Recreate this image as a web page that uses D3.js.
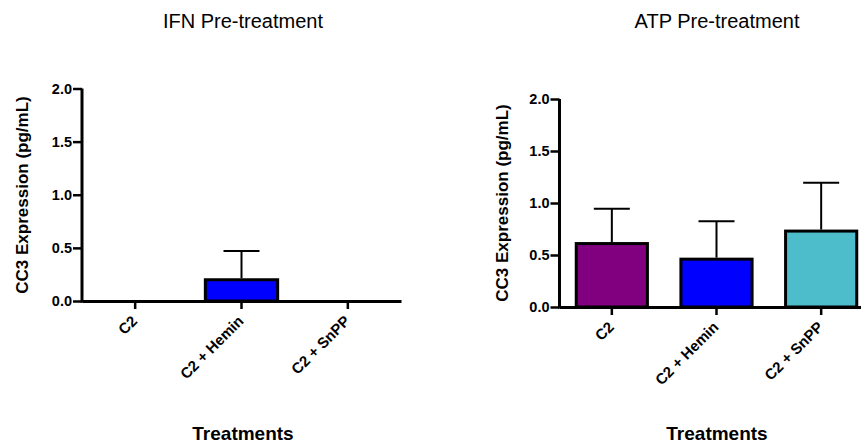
<!DOCTYPE html>
<html>
<head>
<meta charset="utf-8">
<script src="https://cdn.jsdelivr.net/npm/d3@7"></script>
<style>
  body { margin: 0; background: #fff; }
  text { font-family: "Liberation Sans", Arial, sans-serif; }
</style>
</head>
<body>
<div class="chart"></div>
<script>
// data
var treatments = ["C2", "C2 + Hemin", "C2 + SnPP"];
var ifnMeans = [0, 0.20, 0];
var ifnErrors = [0, 0.27, 0];
var atpMeans = [0.61, 0.46, 0.73];
var atpErrors = [0.335, 0.365, 0.465];
var barColors = ["#800080", "#0000ff", "#4dbdcc"];
var yTicks = [0, 0.5, 1.0, 1.5, 2.0];

var svg = d3.select(".chart")
  .append("svg")
  .attr("width", 861)
  .attr("height", 444);

// one panel per pre-treatment
function drawPanel(opts) {
  var g = svg.append("g");

  var xScale = d3.scaleBand()
    .domain(treatments)
    .range([opts.left, opts.right])
    .paddingInner(0.32)
    .paddingOuter(0.16);

  var yScale = d3.scaleLinear()
    .domain([0, 2])
    .range([opts.bottom, opts.top]);

  var data = treatments.map(function(t, i) {
    return { name: t, mean: opts.means[i], err: opts.errors[i], color: barColors[i] };
  });

  // bars (zero height bars are skipped)
  g.selectAll("rect")
    .data(data.filter(d => d.mean > 0))
    .enter()
    .append("rect")
    .attr("x", d => xScale(d.name))
    .attr("y", d => yScale(d.mean))
    .attr("width", xScale.bandwidth())
    .attr("height", d => yScale(0) - yScale(d.mean))
    .attr("fill", d => d.color)
    .attr("stroke", "#000")
    .attr("stroke-width", 3);

  // upper error bars
  var errs = data.filter(d => d.err > 0);
  var cx = d => xScale(d.name) + xScale.bandwidth() / 2;
  g.selectAll(".err-v")
    .data(errs)
    .enter()
    .append("line")
    .attr("x1", cx).attr("x2", cx)
    .attr("y1", d => yScale(d.mean) - 1.5)
    .attr("y2", d => yScale(d.mean + d.err))
    .attr("stroke", "#000")
    .attr("stroke-width", 2);
  g.selectAll(".err-cap")
    .data(errs)
    .enter()
    .append("line")
    .attr("x1", d => cx(d) - 18).attr("x2", d => cx(d) + 18)
    .attr("y1", d => yScale(d.mean + d.err))
    .attr("y2", d => yScale(d.mean + d.err))
    .attr("stroke", "#000")
    .attr("stroke-width", 2);

  // y axis
  var yAxis = g.append("g")
    .attr("transform", `translate(${opts.left}, 0)`)
    .call(d3.axisLeft(yScale).tickValues(yTicks).tickFormat(d3.format(".1f"))
      .tickSize(9).tickSizeOuter(0).tickPadding(1));
  yAxis.select(".domain").attr("stroke-width", 3).attr("d", `M0,${opts.bottom + 1.5}V${opts.top}`);
  yAxis.selectAll(".tick line").attr("stroke-width", 2.5);
  yAxis.selectAll(".tick text")
    .attr("font-family", "'Liberation Sans', Arial, sans-serif")
    .attr("font-weight", "bold")
    .attr("font-size", 14.5)
    .attr("fill", "#000");

  // x axis
  var xAxis = g.append("g")
    .attr("transform", `translate(0, ${opts.bottom})`)
    .call(d3.axisBottom(xScale).tickSize(8).tickSizeOuter(0));
  xAxis.select(".domain").attr("stroke-width", 3);
  xAxis.selectAll(".tick line").attr("stroke-width", 2.5);
  xAxis.selectAll(".tick text")
    .attr("font-family", "'Liberation Sans', Arial, sans-serif")
    .attr("font-weight", "bold")
    .attr("font-size", 15)
    .attr("fill", "#000")
    .attr("text-anchor", "end")
    .attr("dy", null)
    .attr("y", 0)
    .attr("transform", "translate(3, 21) rotate(-45)");

  // titles
  svg.append("text")
    .attr("x", opts.titleX)
    .attr("y", 28)
    .attr("text-anchor", "middle")
    .attr("font-size", 20)
    .text(opts.title);

  svg.append("text")
    .attr("x", opts.titleX)
    .attr("y", 440)
    .attr("text-anchor", "middle")
    .attr("font-size", 19)
    .attr("font-weight", "bold")
    .text("Treatments");

  svg.append("text")
    .attr("transform", `translate(${opts.labelX}, ${opts.labelY}) rotate(-90)`)
    .attr("text-anchor", "middle")
    .attr("font-size", 17)
    .attr("font-weight", "bold")
    .text("CC3 Expression (pg/mL)");
}

drawPanel({
  title: "IFN Pre-treatment",
  means: ifnMeans, errors: ifnErrors,
  left: 82, right: 401, top: 88.5, bottom: 301,
  titleX: 243, labelX: 28, labelY: 195
});

drawPanel({
  title: "ATP Pre-treatment",
  means: atpMeans, errors: atpErrors,
  left: 559.5, right: 873.5, top: 99, bottom: 307,
  titleX: 717, labelX: 508, labelY: 203
});
</script>
</body>
</html>
